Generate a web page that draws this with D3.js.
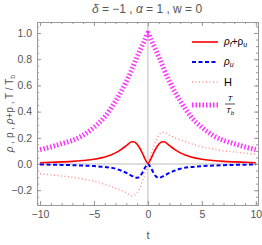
<!DOCTYPE html>
<html>
<head>
<script src="https://d3js.org/d3.v7.min.js"></script>
<style>
  body { margin: 0; background: #fff; }
  text { font-family: "Liberation Sans", Arial, sans-serif; }
</style>
</head>
<body>
<div class="chart"></div>
<script>
// values
const tVals = [-10, -9, -8, -7, -6, -5, -4, -3, -2.5, -2, -1.5, -1.25, -1, -0.75, -0.5, -0.25, 0,
               0.25, 0.5, 0.75, 1, 1.25, 1.5, 2, 2.5, 3, 4, 5, 6, 7, 8, 9, 10];
const rhoSum = [0.01, 0.013, 0.016, 0.02, 0.027, 0.036, 0.053, 0.085, 0.11, 0.14, 0.17, 0.168, 0.15, 0.12, 0.08, 0.035, 0.003,
                0.035, 0.08, 0.12, 0.15, 0.168, 0.17, 0.14, 0.11, 0.085, 0.053, 0.036, 0.027, 0.02, 0.016, 0.013, 0.01];
const rhoU = [-0.004, -0.005, -0.007, -0.009, -0.012, -0.016, -0.023, -0.036, -0.05, -0.068, -0.09, -0.1, -0.105, -0.095, -0.065, -0.025, 0,
              -0.025, -0.065, -0.095, -0.105, -0.1, -0.09, -0.068, -0.05, -0.036, -0.023, -0.016, -0.012, -0.009, -0.007, -0.005, -0.004];
const hVals = [-0.075, -0.083, -0.092, -0.1, -0.115, -0.13, -0.155, -0.185, -0.2, -0.22, -0.242, -0.238, -0.22, -0.18, -0.13, -0.065, 0,
               0.065, 0.13, 0.18, 0.22, 0.238, 0.242, 0.22, 0.2, 0.185, 0.155, 0.13, 0.115, 0.1, 0.092, 0.083, 0.075];
const tRatio = [0.11, 0.13, 0.155, 0.18, 0.22, 0.28, 0.36, 0.48, 0.55, 0.63, 0.72, 0.77, 0.82, 0.865, 0.91, 0.955, 1.0,
                0.955, 0.91, 0.865, 0.82, 0.77, 0.72, 0.63, 0.55, 0.48, 0.36, 0.28, 0.22, 0.18, 0.155, 0.13, 0.11];
const xTicks = [-10, -5, 0, 5, 10];
const yTicks = [-0.2, 0, 0.2, 0.4, 0.6, 0.8, 1.0];

const width = 262, height = 245;
const m = {left: 37, right: 4, top: 22, bottom: 40};
const svg = d3.select('.chart').append('svg')
  .attr('width', width).attr('height', height);

const x = d3.scaleLinear().domain([-10.28, 10.2]).range([m.left, width - m.right]);
const y = d3.scaleLinear().domain([-0.313, 1.084]).range([height - m.bottom, m.top]);

const gray = '#555';
const frameCol = '#999';

// zero lines
svg.append('line').attr('x1', x(0)).attr('x2', x(0)).attr('y1', y.range()[1]).attr('y2', y.range()[0])
  .attr('stroke', '#bbb').attr('stroke-width', 1);
svg.append('line').attr('x1', x.range()[0]).attr('x2', x.range()[1]).attr('y1', y(0)).attr('y2', y(0))
  .attr('stroke', '#bbb').attr('stroke-width', 1);

// frame with inward ticks
function frameAxis(axis, tr, labels) {
  const g = svg.append('g').attr('transform', tr).call(axis);
  g.select('.domain').attr('stroke', frameCol);
  g.selectAll('.tick line').attr('stroke', frameCol);
  g.selectAll('text').attr('fill', gray).attr('font-size', 10.5);
  if (!labels) g.selectAll('text').remove();
  return g;
}
const xMinor = d3.range(-10, 11, 1);
const yMinor = d3.range(-0.3, 1.08, 0.05);
const fmtY = d => d === 0 ? '0.0' : d3.format('.1f')(d).replace('-', '\u2212');
const fmtX = d => String(d).replace('-', '\u2212');

// minor ticks
[[d3.axisBottom(x).tickValues(xMinor).tickSize(-2).tickFormat(''), `translate(0,${y.range()[0]})`],
 [d3.axisTop(x).tickValues(xMinor).tickSize(-2).tickFormat(''), `translate(0,${y.range()[1]})`],
 [d3.axisLeft(y).tickValues(yMinor).tickSize(-2).tickFormat(''), `translate(${x.range()[0]},0)`],
 [d3.axisRight(y).tickValues(yMinor).tickSize(-2).tickFormat(''), `translate(${x.range()[1]},0)`]
].forEach(([a, tr]) => frameAxis(a.tickSizeOuter(0), tr, false));

frameAxis(d3.axisBottom(x).tickValues(xTicks).tickSize(-4).tickSizeOuter(0).tickPadding(6).tickFormat(fmtX),
  `translate(0,${y.range()[0]})`, true);
frameAxis(d3.axisTop(x).tickValues(xTicks).tickSize(-4).tickSizeOuter(0).tickFormat(''),
  `translate(0,${y.range()[1]})`, false);
frameAxis(d3.axisLeft(y).tickValues(yTicks).tickSize(-4).tickSizeOuter(0).tickPadding(5).tickFormat(fmtY),
  `translate(${x.range()[0]},0)`, true);
frameAxis(d3.axisRight(y).tickValues(yTicks).tickSize(-4).tickSizeOuter(0).tickFormat(''),
  `translate(${x.range()[1]},0)`, false);

// curves
const plot = svg.append('g');
plot.append('clipPath').attr('id', 'clip').append('rect')
  .attr('x', x.range()[0]).attr('y', y.range()[1])
  .attr('width', x.range()[1] - x.range()[0]).attr('height', y.range()[0] - y.range()[1]);
const line = vals => d3.line().x((d, i) => x(tVals[i])).y(d => y(d)).curve(d3.curveMonotoneX)(vals);

const series = [
  {vals: tRatio, color: '#ff33ff', w: 5, dash: '1.5,2'},
  {vals: hVals, color: '#ff8f8f', w: 1.5, dash: '1,2.5'},
  {vals: rhoU, color: '#0000ff', w: 2, dash: '4,2.5'},
  {vals: rhoSum, color: '#ff0000', w: 1.6, dash: null}
];
series.forEach(s => {
  plot.append('path').attr('d', line(s.vals)).attr('fill', 'none')
    .attr('stroke', s.color).attr('stroke-width', s.w)
    .attr('stroke-dasharray', s.dash).attr('clip-path', 'url(#clip)');
});

// legend
const leg = svg.append('g');
const legRows = [
  {y: 42, s: series[3]}, {y: 62, s: series[2]}, {y: 82, s: series[1]}, {y: 105, s: series[0]}
];
legRows.forEach(r => {
  leg.append('line').attr('x1', 192).attr('x2', 218).attr('y1', r.y).attr('y2', r.y)
    .attr('stroke', r.s.color).attr('stroke-width', r.s.w).attr('stroke-dasharray', r.s.dash);
});
const lt = leg.append('g').attr('font-size', 10).attr('fill', '#000');
const t1 = lt.append('text').attr('x', 224).attr('y', 45).attr('font-style', 'italic');
t1.append('tspan').text('ρ');
t1.append('tspan').attr('font-size', 7).attr('dy', 2).text('f');
t1.append('tspan').attr('dy', -2).attr('font-style', 'normal').text('+ρ');
t1.append('tspan').attr('font-size', 7).attr('dy', 2).text('u');
const t2 = lt.append('text').attr('x', 224).attr('y', 65).attr('font-style', 'italic');
t2.append('tspan').text('ρ');
t2.append('tspan').attr('font-size', 7).attr('dy', 2).text('u');
lt.append('text').attr('x', 224).attr('y', 86).attr('font-size', 11).text('H');
lt.append('text').attr('x', 230).attr('y', 101).attr('text-anchor', 'middle').attr('font-size', 8)
  .attr('font-style', 'italic').text('T');
lt.append('line').attr('x1', 225).attr('x2', 235).attr('y1', 104).attr('y2', 104).attr('stroke', '#000').attr('stroke-width', 0.7);
const t4 = lt.append('text').attr('x', 230).attr('y', 113).attr('text-anchor', 'middle').attr('font-size', 8)
  .attr('font-style', 'italic');
t4.append('tspan').text('T');
t4.append('tspan').attr('font-size', 6).attr('dy', 2).text('b');

// title
const title = svg.append('text').attr('x', 147).attr('y', 13).attr('text-anchor', 'middle')
  .attr('font-size', 12).attr('fill', gray);
title.append('tspan').attr('font-style', 'italic').text('δ');
title.append('tspan').text(' = \u22121 ,  ');
title.append('tspan').attr('font-style', 'italic').text('α');
title.append('tspan').text(' = 1 , w = 0');

// axis labels
svg.append('text').attr('x', x(0)).attr('y', 239).attr('text-anchor', 'middle')
  .attr('font-size', 11).attr('fill', gray).text('t');
const yl = svg.append('text').attr('transform', `translate(13,${(y.range()[0] + y.range()[1]) / 2}) rotate(-90)`)
  .attr('text-anchor', 'middle').attr('font-size', 10).attr('fill', gray);
yl.append('tspan').attr('font-style', 'italic').text('ρ');
yl.append('tspan').text(' ,  p ,  ');
yl.append('tspan').attr('font-style', 'italic').text('ρ');
yl.append('tspan').text('+p ,  T / T');
yl.append('tspan').attr('font-size', 7).attr('dy', 2).text('b');
</script>
</body>
</html>
